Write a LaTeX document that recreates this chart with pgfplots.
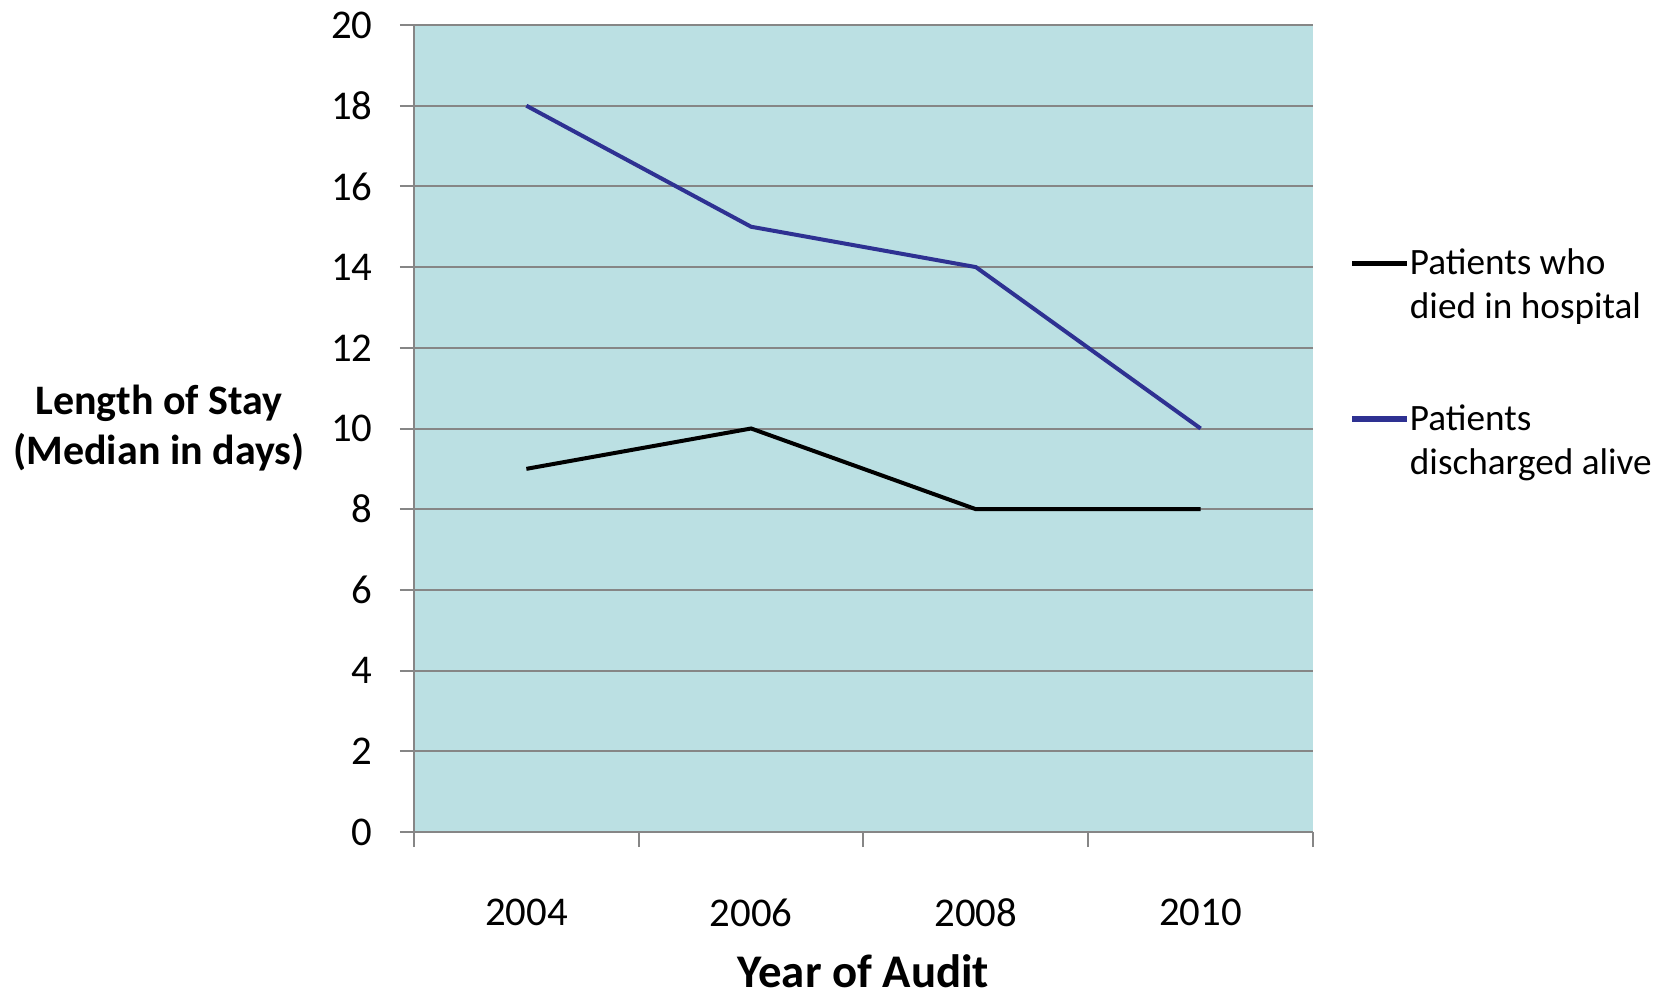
\documentclass[border=0pt]{standalone}
\usepackage{pgfplots}
\pgfplotsset{compat=1.18}
\usepackage{fontspec}
\setmainfont{Carlito}

\definecolor{plotbg}{RGB}{187,224,227}
\definecolor{gridgray}{RGB}{134,134,134}
\definecolor{aliveblue}{RGB}{46,49,146}

\begin{document}
\begin{tikzpicture}
\useasboundingbox (-103.5pt,-41.25pt) rectangle (311.75pt,208pt);
\begin{axis}[
  at={(0pt,0pt)}, anchor=origin,
  scale only axis,
  width=224.75pt, height=201.75pt,
  xmin=0, xmax=4,
  ymin=0, ymax=20,
  xtick={0.5,1.5,2.5,3.5},
  xticklabels={2004,2006,2008,2010},
  minor xtick={0,1,2,3,4},
  ytick={0,2,...,20},
  axis x line*=bottom,
  axis y line*=left,
  axis line style={gridgray, line width=0.5pt},
  axis background/.style={fill=plotbg},
  ymajorgrids,
  major grid style={gridgray, line width=0.5pt},
  tick align=outside,
  tick style={gridgray, line width=0.5pt},
  x tick style={draw=none},
  minor x tick style={draw=gridgray, line width=0.5pt},
  major tick length=3.5pt,
  minor tick length=3.75pt,
  /pgf/number format/assume math mode=true,
  yticklabel style={font=\fontsize{10.2}{12}\selectfont, xshift=-3.3pt},
  xticklabel style={font=\fontsize{10.2}{12}\selectfont, yshift=-9.6pt},
  xlabel={Year of Audit},
  xlabel style={font=\bfseries\fontsize{11.7}{14}\selectfont, at={(axis description cs:0.5,0)}, anchor=center, yshift=-34.75pt},
  ylabel={Length of Stay\\(Median in days)},
  ylabel style={font=\bfseries\fontsize{10.5}{12.5}\selectfont, align=center, rotate=-90, at={(axis description cs:-0.2837,0.5)}, anchor=center},
  legend image code/.code={\draw[#1, line width=1.3pt] (0pt,5.8pt) -- (13.75pt,5.8pt);},
  legend cell align=left,
  legend style={at={(axis description cs:1.040,0.724)}, anchor=north west,
    draw=none, fill=none, inner sep=0pt, row sep=20pt, column sep=0pt,
    nodes={inner sep=0pt, align=left},
    font=\fontsize{9.3}{11}\selectfont},
]
\addplot[black, line width=1pt] coordinates {
  (0.5,9) (1.5,10) (2.5,8) (3.5,8)
};
\addlegendentry{Patients who\\died in hospital}
\addplot[aliveblue, line width=1pt] coordinates {
  (0.5,18) (1.5,15) (2.5,14) (3.5,10)
};
\addlegendentry{Patients\\discharged alive}
\end{axis}
\end{tikzpicture}
\end{document}
